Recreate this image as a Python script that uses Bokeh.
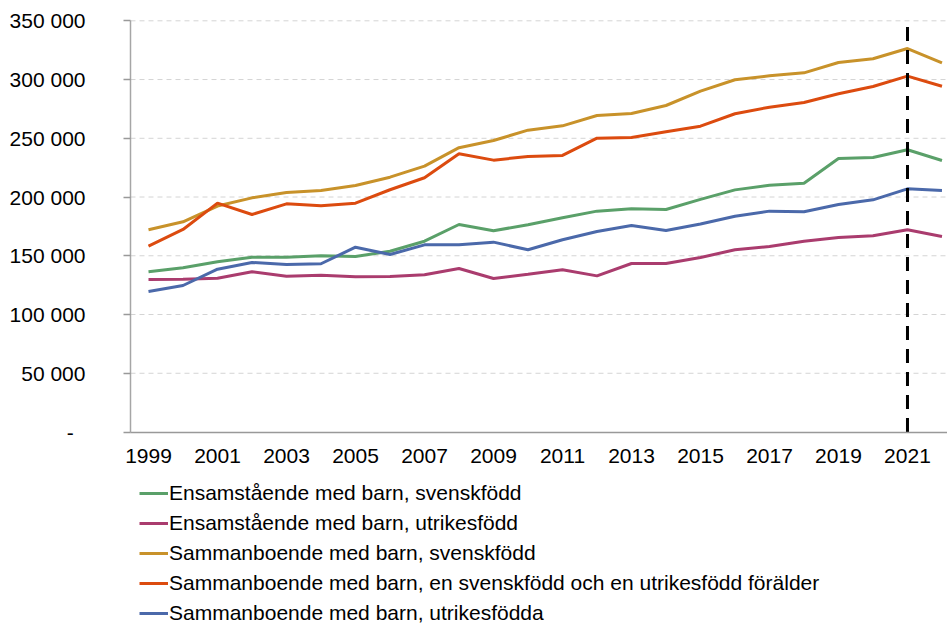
from bokeh.plotting import figure
from bokeh.models import Range1d, FixedTicker, Legend, LegendItem
from bokeh.embed import file_html
from bokeh.resources import INLINE

years = list(range(1999, 2023))
ens_sv = [136400, 139800, 144900, 148800, 148800, 150000, 149400, 153900, 162400, 176600, 171300, 176400,
          182300, 188000, 190000, 189400, 198000, 206100, 210100, 211800, 232800, 233700, 240200, 231100]
ens_ut = [129800, 130100, 130900, 136400, 132600, 133500, 132100, 132400, 133800, 139200, 130700, 134300,
          138100, 132900, 143400, 143400, 148500, 155100, 157900, 162400, 165600, 167000, 172100, 166400]
sam_sv = [172100, 178900, 192300, 199300, 203900, 205600, 209800, 216900, 226300, 242000, 248100, 256900,
          260600, 269400, 271100, 277900, 290100, 299800, 303200, 305700, 314500, 317700, 326400, 314200]
sam_mix = [158200, 172400, 194800, 185100, 194200, 192500, 194800, 206200, 216400, 236800, 231400, 234500,
           235400, 250100, 250700, 255500, 260300, 270900, 276500, 280500, 287900, 294100, 302900, 294300]
sam_ut = [119600, 124700, 138600, 144300, 142600, 143200, 157300, 151100, 159300, 159300, 161600, 155100,
          163600, 170700, 175800, 171500, 177000, 183700, 188000, 187400, 193600, 197600, 207000, 205600]

series_names = [
    "Ensamstående med barn, svenskfödd",
    "Ensamstående med barn, utrikesfödd",
    "Sammanboende med barn, svenskfödd",
    "Sammanboende med barn, en svenskfödd och en utrikesfödd förälder",
    "Sammanboende med barn, utrikesfödda",
]
series_colors = ["#5aa069", "#aa3c6e", "#c8922a", "#dc4b0f", "#4b69aa"]
series_values = [ens_sv, ens_ut, sam_sv, sam_mix, sam_ut]

x_ticks = list(range(1999, 2022, 2))
y_ticks = [0, 50000, 100000, 150000, 200000, 250000, 300000, 350000]
y_tick_labels = ["-\u00a0\u00a0", "50 000", "100 000", "150 000", "200 000", "250 000", "300 000", "350 000"]
marker_year = 2021

FONT = "Liberation Sans"
FS = "21px"

# The frame covers the whole canvas; both axes are pinned inside it so that the
# legend underneath the chart and the first year label are not clipped.
X_VIEW = (1994.71, 2022.16)
Y_VIEW = (-166400, 367280)
Y_AXIS_AT = 1998.478

p = figure(width=947, height=627, output_backend="svg", toolbar_location=None,
           x_range=Range1d(*X_VIEW), y_range=Range1d(*Y_VIEW),
           min_border_left=0, min_border_right=0, min_border_top=0, min_border_bottom=0)
p.outline_line_color = None
p.background_fill_color = "white"
p.border_fill_color = "white"
p.xgrid.visible = False
p.ygrid.visible = False

# dashed horizontal gridlines from the y axis to the right edge
grid_y = y_ticks[1:]
p.segment(x0=[Y_AXIS_AT] * len(grid_y), y0=grid_y, x1=[X_VIEW[1]] * len(grid_y), y1=grid_y,
          line_color="#d4d4d4", line_width=1, line_dash="5 4")

renderers = []
for name, col, vals in zip(series_names, series_colors, series_values):
    r = p.line(years, vals, line_color=col, line_width=3)
    renderers.append((name, r))

# dashed vertical marker at 2021, from 0 to top of axis
p.segment(x0=[marker_year], y0=[y_ticks[0]], x1=[marker_year], y1=[y_ticks[-1]],
          line_color="black", line_width=3, line_dash="14 9")

# axes
xa = p.xaxis[0]
xa.fixed_location = 0
xa.bounds = (Y_AXIS_AT, X_VIEW[1])
xa.ticker = FixedTicker(ticks=x_ticks)
xa.major_tick_out = 0
xa.major_tick_in = 0
xa.minor_tick_out = 0
xa.minor_tick_in = 0
xa.axis_line_color = "#999999"
xa.axis_line_width = 1.5
xa.major_label_text_font = FONT
xa.major_label_text_font_size = FS
xa.major_label_text_color = "black"
xa.major_label_standoff = 17

ya = p.yaxis[0]
ya.fixed_location = Y_AXIS_AT
ya.ticker = FixedTicker(ticks=y_ticks)
ya.bounds = (y_ticks[0], y_ticks[-1])
ya.major_label_overrides = {t: l for t, l in zip(y_ticks, y_tick_labels)}
ya.major_tick_out = 7
ya.major_tick_in = 0
ya.minor_tick_out = 0
ya.minor_tick_in = 0
ya.major_tick_line_color = "#999999"
ya.major_tick_line_width = 1.5
ya.axis_line_color = "#a6a6a6"
ya.axis_line_width = 1.5
ya.major_label_text_font = FONT
ya.major_label_text_font_size = FS
ya.major_label_text_color = "black"
ya.major_label_standoff = 38

legend = Legend(items=[LegendItem(label=n, renderers=[r]) for n, r in renderers],
                location=(139, 2), orientation="vertical",
                margin=0, padding=0, spacing=6,
                glyph_width=29, glyph_height=24, label_height=24, label_standoff=1,
                label_text_font=FONT, label_text_font_size=FS, label_text_color="black",
                border_line_color=None, background_fill_alpha=0)
p.add_layout(legend)

open("out.html", "w").write(file_html(p, INLINE))
